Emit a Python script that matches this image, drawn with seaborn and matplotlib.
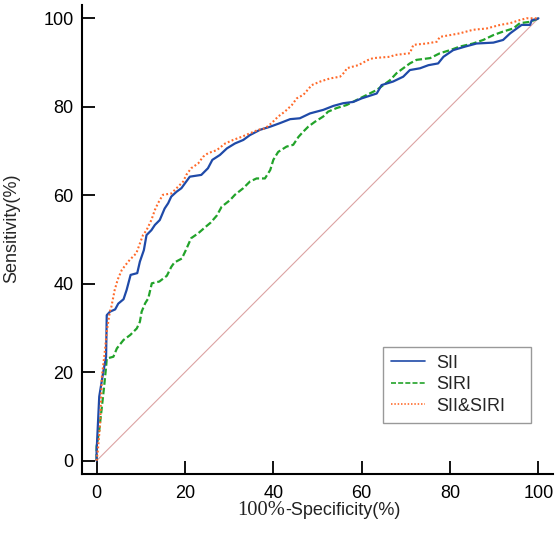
import matplotlib
matplotlib.use("Agg")
import matplotlib.pyplot as plt
import matplotlib.transforms as mtransforms
import seaborn as sns
import pandas as pd

# ---- data ----
sii_x = [0, 0, 0.6, 1.5, 2.15, 2.3, 3.05, 4.2, 4.9, 6.1, 6.8, 7.7, 9.2, 9.8, 10.7, 11.3, 12.4, 13.2,
         14.3, 15.4, 16.2, 16.9, 18.1, 19.2, 20, 21.1, 23.7, 25.2, 26.2, 27.9, 29.5, 31.3, 33.2, 34.7,
         37, 39.3, 41.5, 43.8, 46, 48.3, 51.3, 53.6, 55.8, 58.1, 60, 63.4, 64.5, 67.1, 69.4, 70.9,
         73.2, 75.1, 77.3, 78.5, 80.7, 83.4, 86, 89.8, 92, 93.6, 95.1, 96.2, 98.1, 98.5, 99.6, 100]
sii_y = [0, 2, 14.5, 20, 23.5, 32.9, 33.7, 34.2, 35.5, 36.5, 38.6, 42, 42.4, 45, 47.6, 51, 52.1, 53.3,
         54.4, 57, 58.2, 59.7, 60.8, 61.6, 62.7, 64.2, 64.6, 66.1, 68, 69.1, 70.6, 71.7, 72.5, 73.6,
         74.8, 75.5, 76.3, 77.2, 77.4, 78.5, 79.3, 80.2, 80.8, 81.1, 81.9, 83, 84.9, 85.7, 86.8, 88.3,
         88.7, 89.4, 89.8, 91.3, 92.8, 93.6, 94.3, 94.5, 95.1, 96.6, 97.7, 98.5, 98.5, 99.6, 99.8, 100]

siri_x = [0, 0, 0.6, 1.2, 1.7, 2.15, 2.3, 3.8, 4.6, 6.1, 7.6, 9.1, 9.8, 10.2, 11, 11.7, 12.5, 14.2,
          15.9, 16.9, 17.6, 19.3, 20.2, 21.4, 23, 24.6, 25.8, 27.2, 28.3, 30.2, 31.3, 33.2, 34.7, 36.2,
          38.1, 39.3, 40, 41.1, 43, 44.5, 45.7, 46.8, 47.9, 49.4, 51.3, 52.4, 54.3, 56.6, 57.4, 60.4,
          63.4, 64.9, 66.4, 67.9, 69.4, 70.9, 72.4, 75.5, 77.7, 80, 82.2, 85.2, 87.5, 89.8, 92, 94.3,
          95.8, 98.1, 99.6, 100]
siri_y = [0, 3.2, 6.9, 12.2, 16.7, 21.2, 23.1, 23.5, 25.4, 27.3, 28.4, 29.9, 31.4, 33.7, 35.6, 36.7,
          40.1, 40.5, 41.8, 43.8, 44.8, 45.7, 47.6, 50.3, 51.4, 52.8, 53.8, 55.4, 57.4, 58.9, 60.1,
          61.6, 63.1, 63.8, 63.8, 65.7, 68, 69.8, 71, 71.4, 73.2, 74.4, 75.5, 76.6, 77.8, 78.9, 79.7,
          80.4, 80.8, 82.3, 83.8, 84.9, 86, 87.6, 88.7, 89.8, 90.6, 91, 92.1, 92.8, 93.6, 94.3, 95.1,
          96.2, 97, 97.7, 98.9, 99.2, 99.8, 100]

both_x = [0, 0.3, 0.8, 1.2, 1.9, 2.3, 3, 3.35, 4.1, 4.8, 5.7, 6.6, 7.5, 9, 9.8, 10.5, 11.3, 12.4,
          13.2, 13.9, 15, 16.9, 18.1, 19.6, 20.3, 21.4, 23, 24.1, 25.2, 27.2, 29.1, 30.9, 32.8, 34.7,
          36.6, 38.1, 39.6, 41.1, 42.6, 44.2, 45.3, 46.8, 48.7, 50.6, 52.8, 55.1, 56.2, 56.6, 59.2,
          61.5, 62.6, 66.4, 67.5, 70.9, 71.7, 74.7, 77, 77.7, 80, 82.2, 85.2, 88.3, 91.3, 93.6, 95.8,
          97.3, 100]
both_y = [0, 2.4, 8.5, 19, 25, 29.2, 33.7, 34.8, 38.6, 41, 43.1, 44.3, 45.4, 46.9, 49.1, 51, 52.1,
          54.4, 56.7, 58.2, 60.1, 60.4, 61.6, 63.1, 64.6, 66.1, 67.2, 68.7, 69.5, 70.2, 71.7, 72.5,
          73.2, 74, 74.8, 75.1, 76.3, 77.8, 78.9, 80.4, 81.9, 82.7, 84.9, 85.7, 86.4, 86.8, 87.9,
          88.7, 89.4, 90.6, 91, 91.3, 91.7, 92.1, 94, 94.3, 94.7, 95.8, 96.2, 96.6, 97.4, 97.7, 98.5,
          98.9, 99.6, 100, 100]

ref_x = [0, 100]
ref_y = [0, 100]

x_ticks = [0, 20, 40, 60, 80, 100]
y_ticks = [0, 20, 40, 60, 80, 100]

# ---- style ----
sns.set_style("ticks")
plt.rcParams['font.family'] = ['Liberation Sans', 'DejaVu Sans']
plt.rcParams['font.size'] = 13

fig = plt.figure(figsize=(5.59, 5.33), dpi=100)
ax = fig.add_axes([0.1467, 0.1107, 0.8426, 0.8799])

ax.plot(ref_x, ref_y, color='#dca3a3', lw=0.8, zorder=1)

df_sii = pd.DataFrame({'x': sii_x, 'y': sii_y})
df_siri = pd.DataFrame({'x': siri_x, 'y': siri_y})
df_both = pd.DataFrame({'x': both_x, 'y': both_y})

sns.lineplot(data=df_sii, x='x', y='y', ax=ax, sort=False, estimator=None,
             color='#1f4aa8', lw=1.6, label='SII', zorder=3)
sns.lineplot(data=df_siri, x='x', y='y', ax=ax, sort=False, estimator=None,
             color='#22a32a', lw=1.6, label='SIRI', zorder=2)
sns.lineplot(data=df_both, x='x', y='y', ax=ax, sort=False, estimator=None,
             color='#ff6a2a', lw=1.5, label='SII&SIRI', zorder=4)
lines = ax.get_lines()
lines[2].set_dashes([3, 1.3])
lines[3].set_dashes([0.9, 1.1])

ax.set_xlim(-3.3, 103.3)
ax.set_ylim(-3.0, 103.0)
ax.set_xticks(x_ticks)
ax.set_yticks(y_ticks)
ax.set_xticklabels([str(t) for t in x_ticks])
ax.set_yticklabels([str(t) for t in y_ticks])
ax.tick_params(direction='in', length=9.5, width=1.3, labelsize=13, colors='black', pad=6)
ax.tick_params(axis='x', pad=8)
for s in ['top', 'right']:
    ax.spines[s].set_visible(False)
for s in ['left', 'bottom']:
    ax.spines[s].set_linewidth(1.5)
    ax.spines[s].set_color('black')

ax.set_xlabel('')
ax.set_ylabel('Sensitivity(%)', fontsize=13)
ax.yaxis.set_label_coords(-0.131, 0.5245)

trans = mtransforms.blended_transform_factory(ax.transData, ax.transAxes)
ax.text(42.6, -0.077, '100%', transform=trans, ha='right', va='center',
        fontsize=14.8, family=['Liberation Serif', 'DejaVu Serif'], color='#222222')
ax.text(42.6, -0.077, '-Specificity(%)', transform=trans, ha='left', va='center',
        fontsize=13, family=['Liberation Sans', 'DejaVu Sans'], color='#222222')

handles, labels = ax.get_legend_handles_labels()
leg = ax.legend(handles, labels, loc='lower left', bbox_to_anchor=(0.639, 0.109, 0.314, 0.164),
                mode='expand', borderaxespad=0,
                frameon=True, fancybox=False, edgecolor='#808080', fontsize=13,
                handlelength=1.85, handletextpad=0.65, borderpad=0.45, labelspacing=0.25)
leg.get_frame().set_linewidth(1.0)
for h in leg.get_lines():
    h.set_linewidth(1.2)

fig.savefig('out.png', dpi=100)
